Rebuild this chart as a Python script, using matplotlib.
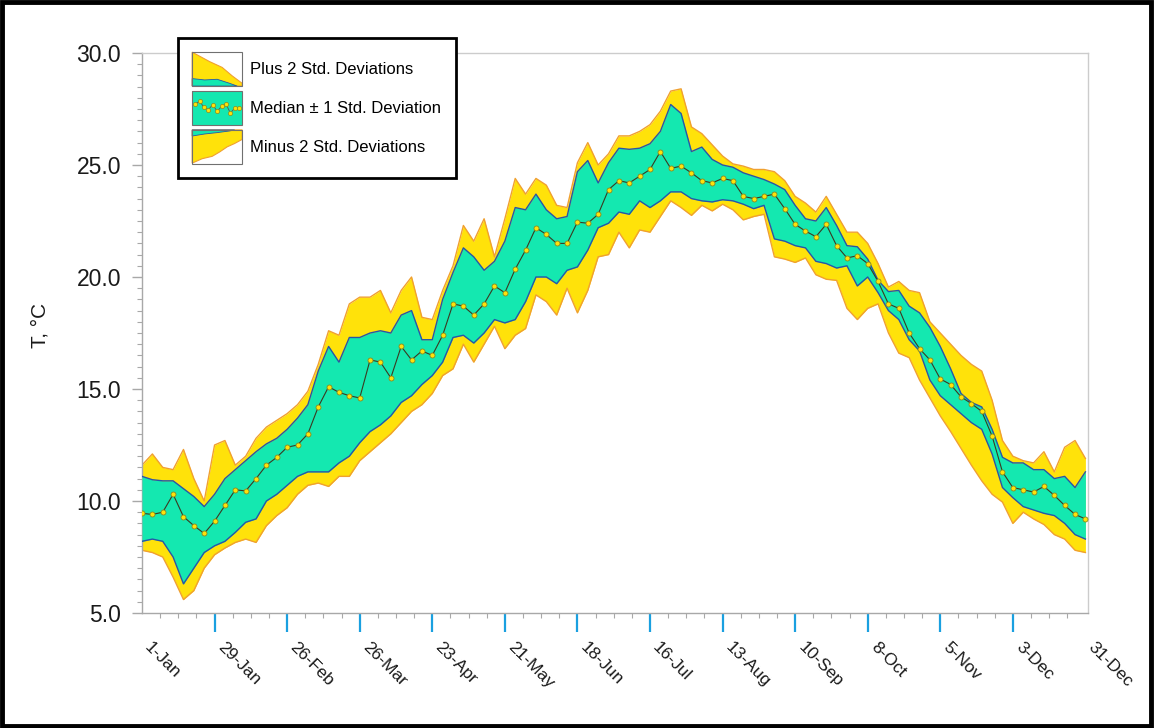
import numpy as np
import matplotlib
matplotlib.use('Agg')
import matplotlib.pyplot as plt
from matplotlib.patches import Polygon, Rectangle, Patch
from matplotlib.lines import Line2D
from matplotlib.legend_handler import HandlerBase
from matplotlib.ticker import MultipleLocator, FixedLocator

plt.rcParams['font.family'] = ['Liberation Sans', 'DejaVu Sans']

# day of year sampling grid (every 4th day)
days = np.arange(1, 366, 4)

# median + 2 std (upper yellow edge)
plus2 = [11.6, 12.1, 11.5, 11.4, 12.3, 11.0, 10.0, 12.5, 12.7, 11.6,
         12.0, 12.8, 13.3, 13.6, 13.9, 14.3, 14.9, 16.1, 17.6, 17.4,
         18.8, 19.1, 19.1, 19.4, 18.4, 19.4, 20.0, 18.2, 18.1, 19.4,
         20.5, 22.3, 21.6, 22.6, 20.9, 22.6, 24.4, 23.7, 24.4, 24.1,
         23.2, 23.1, 25.1, 26.0, 25.0, 25.5, 26.3, 26.3, 26.5, 26.8,
         27.4, 28.3, 28.4, 26.7, 26.4, 25.9, 25.4, 25.05, 24.95, 24.8,
         24.8, 24.7, 24.3, 23.6, 23.3, 22.9, 23.6, 22.8, 22.0, 22.0,
         21.5, 20.6, 19.55, 19.8, 19.4, 19.3, 18.0, 17.5, 17.0, 16.5,
         16.1, 15.8, 14.5, 12.7, 12.0, 11.8, 11.7, 12.2, 11.3, 12.4,
         12.7, 11.9]

# median + 1 std
plus1 = [11.1, 10.95, 10.9, 10.9, 10.55, 10.2, 9.75, 10.3, 11.0, 11.4,
         11.8, 12.2, 12.55, 12.8, 13.2, 13.7, 14.3, 15.8, 16.9, 16.2,
         17.3, 17.3, 17.5, 17.6, 17.5, 18.3, 18.5, 17.2, 17.2, 19.0,
         20.2, 21.3, 20.9, 20.3, 20.7, 21.6, 23.1, 23.0, 23.7, 23.0,
         22.6, 22.7, 24.7, 25.2, 24.2, 25.1, 25.75, 25.7, 25.75, 25.95,
         26.5, 27.7, 27.3, 25.6, 25.8, 25.25, 25.0, 24.9, 24.65, 24.5,
         24.35, 24.15, 23.9, 23.2, 22.6, 22.5, 23.1, 22.3, 21.4, 21.35,
         20.8, 19.85, 19.35, 19.4, 18.7, 18.4, 17.75, 16.9, 15.9, 14.8,
         14.4, 14.2, 13.2, 11.95, 11.7, 11.7, 11.4, 11.4, 11.0, 11.1,
         10.6, 11.3]

# median
median = [9.45, 9.4, 9.5, 10.3, 9.3, 8.9, 8.55, 9.1, 9.8, 10.5,
          10.45, 11.0, 11.6, 11.95, 12.4, 12.5, 13.0, 14.2, 15.1, 14.85,
          14.7, 14.6, 16.3, 16.2, 15.5, 16.9, 16.3, 16.7, 16.5, 17.4,
          18.8, 18.7, 18.3, 18.8, 19.6, 19.3, 20.35, 21.2, 22.2, 21.9,
          21.5, 21.5, 22.45, 22.4, 22.8, 23.9, 24.3, 24.2, 24.5, 24.8,
          25.6, 24.85, 24.95, 24.65, 24.3, 24.2, 24.4, 24.3, 23.6, 23.5,
          23.6, 23.7, 23.05, 22.35, 22.05, 21.8, 22.35, 21.4, 20.85, 20.95,
          20.6, 19.8, 18.8, 18.6, 17.5, 16.8, 16.3, 15.45, 15.2, 14.65,
          14.35, 14.0, 12.9, 11.3, 10.6, 10.5, 10.4, 10.65, 10.25, 9.8,
          9.4, 9.2]

# median - 1 std
minus1 = [8.2, 8.3, 8.2, 7.5, 6.3, 7.0, 7.7, 8.0, 8.2, 8.6,
          9.05, 9.2, 10.0, 10.3, 10.7, 11.1, 11.3, 11.3, 11.3, 11.7,
          12.0, 12.6, 13.1, 13.4, 13.8, 14.4, 14.7, 15.2, 15.6, 16.2,
          17.3, 17.4, 17.05, 17.5, 18.1, 17.95, 18.1, 18.9, 20.0, 20.0,
          19.7, 20.3, 20.45, 21.2, 22.2, 22.4, 22.9, 22.8, 23.4, 23.1,
          23.4, 23.8, 23.8, 23.5, 23.4, 23.35, 23.45, 23.4, 23.25, 23.05,
          23.2, 21.7, 21.6, 21.4, 21.3, 20.7, 20.6, 20.4, 20.5, 19.6,
          20.0, 19.3, 18.5, 18.1, 17.2, 16.7, 15.4, 14.7, 14.3, 13.9,
          13.5, 13.2, 12.1, 10.6, 10.15, 9.75, 9.6, 9.45, 9.35, 9.0,
          8.5, 8.3]

# median - 2 std (lower yellow edge)
minus2 = [7.8, 7.7, 7.5, 6.6, 5.6, 6.0, 7.0, 7.6, 7.9, 8.15,
          8.3, 8.15, 8.9, 9.35, 9.7, 10.3, 10.7, 10.8, 10.65, 11.1,
          11.1, 11.8, 12.2, 12.6, 13.0, 13.5, 14.0, 14.3, 14.8, 15.6,
          15.9, 17.0, 16.2, 17.0, 17.8, 16.8, 17.4, 17.7, 19.2, 18.9,
          18.3, 19.5, 18.4, 19.4, 20.9, 21.0, 22.0, 21.3, 22.1, 22.0,
          22.7, 23.4, 23.1, 22.75, 23.2, 22.95, 23.25, 23.0, 22.55, 22.7,
          22.8, 20.9, 20.8, 20.65, 20.85, 20.1, 19.9, 19.85, 18.6, 18.1,
          18.6, 18.8, 17.5, 16.6, 16.4, 15.4, 14.6, 13.8, 13.1, 12.35,
          11.6, 10.9, 10.3, 9.95, 9.0, 9.5, 9.2, 8.95, 8.5, 8.3,
          7.8, 7.7]

tick_days = [1, 29, 57, 85, 113, 141, 169, 197, 225, 253, 281, 309, 337, 365]
tick_labels = ['1-Jan', '29-Jan', '26-Feb', '26-Mar', '23-Apr', '21-May', '18-Jun',
               '16-Jul', '13-Aug', '10-Sep', '8-Oct', '5-Nov', '3-Dec', '31-Dec']

legend_labels = ['Plus 2 Std. Deviations', 'Median \u00b1 1 Std. Deviation',
                 'Minus 2 Std. Deviations']

YELLOW = '#FFE20A'
ORANGE = '#F0A030'
CYAN = '#14E8B0'
BLUE = '#2855A8'
GRID_GREY = '#a8a8a8'


class BandIcon(HandlerBase):
    """small picture of a band used as legend key"""
    def __init__(self, kind):
        super().__init__()
        self.kind = kind

    def create_artists(self, legend, orig_handle, xdescent, ydescent,
                       width, height, fontsize, trans):
        x0, y0 = -xdescent, -ydescent

        def pts(seq):
            return [(x0 + fx * width, y0 + fy * height) for fx, fy in seq]

        arts = []
        if self.kind == 'plus':
            arts.append(Polygon(pts([(0, 0), (0, 1), (0.35, 0.72), (0.6, 0.55),
                                     (0.8, 0.3), (1, 0.08), (1, 0)]),
                                fc=YELLOW, ec=ORANGE, lw=0.8))
            arts.append(Polygon(pts([(0, 0), (0, 0.22), (0.25, 0.18), (0.5, 0.2),
                                     (0.75, 0.08), (0.9, 0)]),
                                fc=CYAN, ec=BLUE, lw=0.6))
        elif self.kind == 'median':
            arts.append(Rectangle((x0, y0), width, height, fc=CYAN, ec='none'))
            fx = np.linspace(0.06, 0.94, 11)
            fy = [0.62, 0.7, 0.52, 0.45, 0.6, 0.4, 0.55, 0.62, 0.35, 0.5, 0.5]
            arts.append(Line2D(x0 + fx * width, y0 + np.array(fy) * height,
                               color='#555', lw=0.6, marker='o', ms=3.0,
                               mfc=YELLOW, mec='#8a8a20', mew=0.5))
        else:
            arts.append(Polygon(pts([(0, 1), (0, 0.02), (0.2, 0.15), (0.4, 0.22),
                                     (0.55, 0.35), (0.7, 0.5), (0.85, 0.6),
                                     (1, 0.72), (1, 1)]),
                                fc=YELLOW, ec=ORANGE, lw=0.8))
            arts.append(Polygon(pts([(0, 1), (0, 0.82), (0.25, 0.88), (0.5, 0.92),
                                     (0.75, 0.97), (0.85, 1)]),
                                fc=CYAN, ec=BLUE, lw=0.6))
        arts.append(Rectangle((x0, y0), width, height, fill=False, ec='#707070', lw=0.8))
        for a in arts:
            a.set_transform(trans)
        return arts


fig = plt.figure(figsize=(11.54, 7.28), dpi=100)
ax = fig.add_axes([142 / 1154, 1 - 613 / 728, 946 / 1154, 560 / 728])

# outer +-2 std band, then +-1 std band on top
ax.fill_between(days, minus2, plus2, color=YELLOW, lw=0, zorder=1)
ax.plot(days, plus2, color=ORANGE, lw=1.0, zorder=2)
ax.plot(days, minus2, color=ORANGE, lw=1.0, zorder=2)
ax.fill_between(days, minus1, plus1, color=CYAN, lw=0, zorder=3)
ax.plot(days, plus1, color=BLUE, lw=1.0, zorder=4)
ax.plot(days, minus1, color=BLUE, lw=1.0, zorder=4)
ax.plot(days, median, color='#3a3a20', lw=0.8, marker='o', ms=3.6,
        mfc=YELLOW, mec='#8a8a20', mew=0.6, zorder=5)

ax.set_xlim(1, 366)
ax.set_ylim(5, 30)

# y axis
ax.yaxis.set_minor_locator(MultipleLocator(0.5))
ax.set_yticks([5, 10, 15, 20, 25, 30])
ax.set_yticklabels(['%.1f' % v for v in [5, 10, 15, 20, 25, 30]])
ax.tick_params(axis='y', which='major', length=7, width=1, color=GRID_GREY,
               labelsize=16.5, pad=8, labelcolor='#1a1a1a')
ax.tick_params(axis='y', which='minor', length=3.5, width=0.8, color=GRID_GREY)
ax.set_ylabel('T, \u00b0C', fontsize=15, color='#1a1a1a')
ax.yaxis.set_label_coords(-0.098, 0.514)

# x axis
ax.xaxis.set_major_locator(FixedLocator(tick_days))
ax.xaxis.set_minor_locator(MultipleLocator(7, offset=1))
ax.set_xticklabels(tick_labels, rotation=-45, ha='left', va='top',
                   fontsize=12.5, color='#1a1a1a')
ax.tick_params(axis='x', which='major', length=14, width=1.6, color='#1aa0e0', pad=5)
ax.tick_params(axis='x', which='minor', length=3.5, width=0.8, color=GRID_GREY)
for t in (ax.xaxis.get_major_ticks()[0], ax.xaxis.get_major_ticks()[-1]):
    t.tick1line.set_visible(False)

for side in ['top', 'right']:
    ax.spines[side].set_color('#cccccc')
    ax.spines[side].set_linewidth(1)
for side in ['left', 'bottom']:
    ax.spines[side].set_color(GRID_GREY)
    ax.spines[side].set_linewidth(1)

# legend with band pictures
handles = [Patch(), Patch(), Patch()]
hmap = {handles[0]: BandIcon('plus'), handles[1]: BandIcon('median'),
        handles[2]: BandIcon('minus')}
leg = ax.legend(handles, legend_labels, handler_map=hmap, loc='upper left',
                bbox_to_anchor=(178 / 1154, 1 - 38 / 728), bbox_transform=fig.transFigure,
                borderaxespad=0, fontsize=12, handlelength=3.0, handleheight=2.75,
                labelspacing=0.3, borderpad=0.85, handletextpad=0.5,
                fancybox=False, framealpha=1, edgecolor='black')
leg.get_frame().set_linewidth(2)
leg.set_zorder(10)

# black frame around whole picture
fig.patches.append(Rectangle((0.002, 0.003), 0.995, 0.994, transform=fig.transFigure,
                             fill=False, ec='black', lw=3.5))

fig.savefig('out.png', dpi=100)
